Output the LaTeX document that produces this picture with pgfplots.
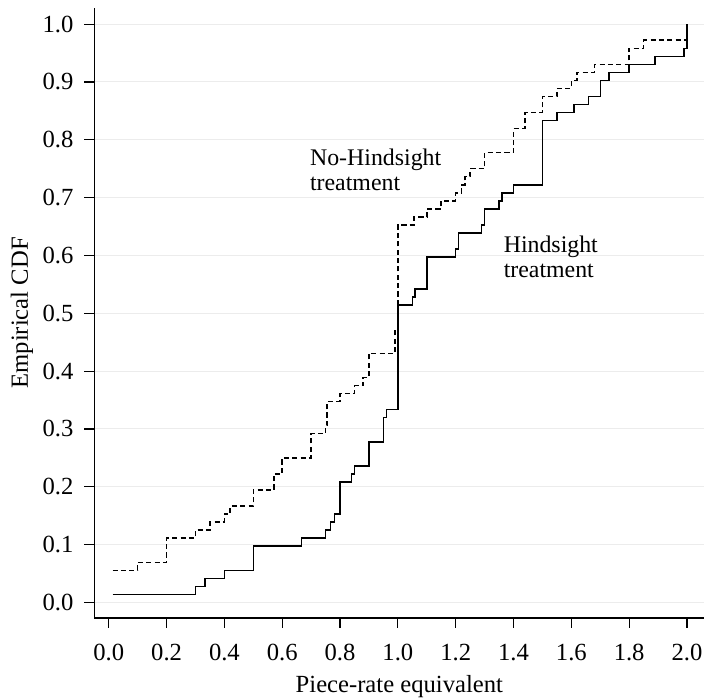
\documentclass[border=0pt]{standalone}
\usepackage{fontspec}
\setmainfont{Liberation Serif}
\usepackage{pgfplots}
\pgfplotsset{compat=1.18}

% empirical CDFs, n = 72 in each treatment
\pgfplotstableread{
x      F
0.013  0.0139
0.300  0.0278
0.333  0.0417
0.400  0.0556
0.500  0.0972
0.667  0.1111
0.750  0.1250
0.767  0.1389
0.780  0.1528
0.800  0.2083
0.840  0.2222
0.850  0.2361
0.900  0.2778
0.950  0.3194
0.960  0.3333
1.000  0.5139
1.050  0.5278
1.060  0.5417
1.100  0.5972
1.200  0.6111
1.210  0.6389
1.290  0.6528
1.300  0.6806
1.350  0.6944
1.360  0.7083
1.400  0.7222
1.500  0.8333
1.550  0.8472
1.610  0.8611
1.660  0.8750
1.700  0.9028
1.730  0.9167
1.800  0.9306
1.890  0.9444
1.990  0.9583
2.000  1.0000
}\hindsight

\pgfplotstableread{
x      F
0.013  0.0556
0.100  0.0694
0.200  0.1111
0.300  0.1250
0.350  0.1389
0.400  0.1528
0.420  0.1667
0.500  0.1944
0.571  0.2222
0.600  0.2500
0.700  0.2917
0.750  0.3056
0.755  0.3472
0.800  0.3611
0.850  0.3750
0.880  0.3889
0.900  0.4306
0.990  0.4722
1.000  0.6528
1.055  0.6667
1.100  0.6806
1.150  0.6944
1.200  0.7083
1.220  0.7222
1.233  0.7361
1.250  0.7500
1.300  0.7778
1.400  0.8194
1.440  0.8472
1.500  0.8750
1.550  0.8889
1.600  0.9028
1.620  0.9167
1.680  0.9306
1.800  0.9583
1.850  0.9722
2.000  1.0000
}\nohindsight

\begin{document}
\begin{tikzpicture}[font=\fontsize{12}{14}\selectfont]
\begin{axis}[
  name=ax,
  scale only axis,
  width=307pt, height=307pt,
  xmin=-0.0498, xmax=2.06,
  ymin=-0.0268, ymax=1.028,
  axis x line=bottom, axis y line=left,
  axis line style={-, line width=0.6pt},
  tick align=outside,
  major tick length=5pt,
  tick style={black, line width=0.6pt},
  xtick={0,0.2,0.4,0.6,0.8,1.0,1.2,1.4,1.6,1.8,2.0},
  ytick={0,0.1,0.2,0.3,0.4,0.5,0.6,0.7,0.8,0.9,1.0},
  /pgf/number format/assume math mode=true,
  /pgf/number format/fixed,
  /pgf/number format/fixed zerofill,
  /pgf/number format/precision=1,
  ticklabel style={font=\fontsize{12.4}{14}\selectfont},
  xticklabel style={yshift=-4.5pt},
  yticklabel style={xshift=-2pt},
  ymajorgrids,
  grid style={gray!15, line width=0.5pt},
  xlabel={Piece-rate equivalent},
  ylabel={Empirical CDF},
  label style={font=\fontsize{12.4}{14}\selectfont, inner sep=0pt},
  xlabel style={at={(axis description cs:0.5,0)}, anchor=base, yshift=-37.5pt},
  ylabel style={at={(axis description cs:-0.109,0.5)}, anchor=base},
  clip=false,
]
\addplot[const plot, black, line width=0.75pt] table[x=x, y=F] {\hindsight};
\addplot[const plot, black, line width=0.75pt, dash pattern=on 2.6pt off 1.6pt] table[x=x, y=F] {\nohindsight};
\node[anchor=base west, inner sep=0pt] at (axis cs:0.695,0.755) {No-Hindsight};
\node[anchor=base west, inner sep=0pt] at (axis cs:0.695,0.712) {treatment};
\node[anchor=base west, inner sep=0pt] at (axis cs:1.365,0.605) {Hindsight};
\node[anchor=base west, inner sep=0pt] at (axis cs:1.365,0.561) {treatment};
\end{axis}
\path[draw=none] (ax.south west) ++(-47.5pt,-39.85pt) rectangle (ax.north east);
\path[draw=none] (ax.north east) -- ++(0,4pt);
\end{tikzpicture}
\end{document}
